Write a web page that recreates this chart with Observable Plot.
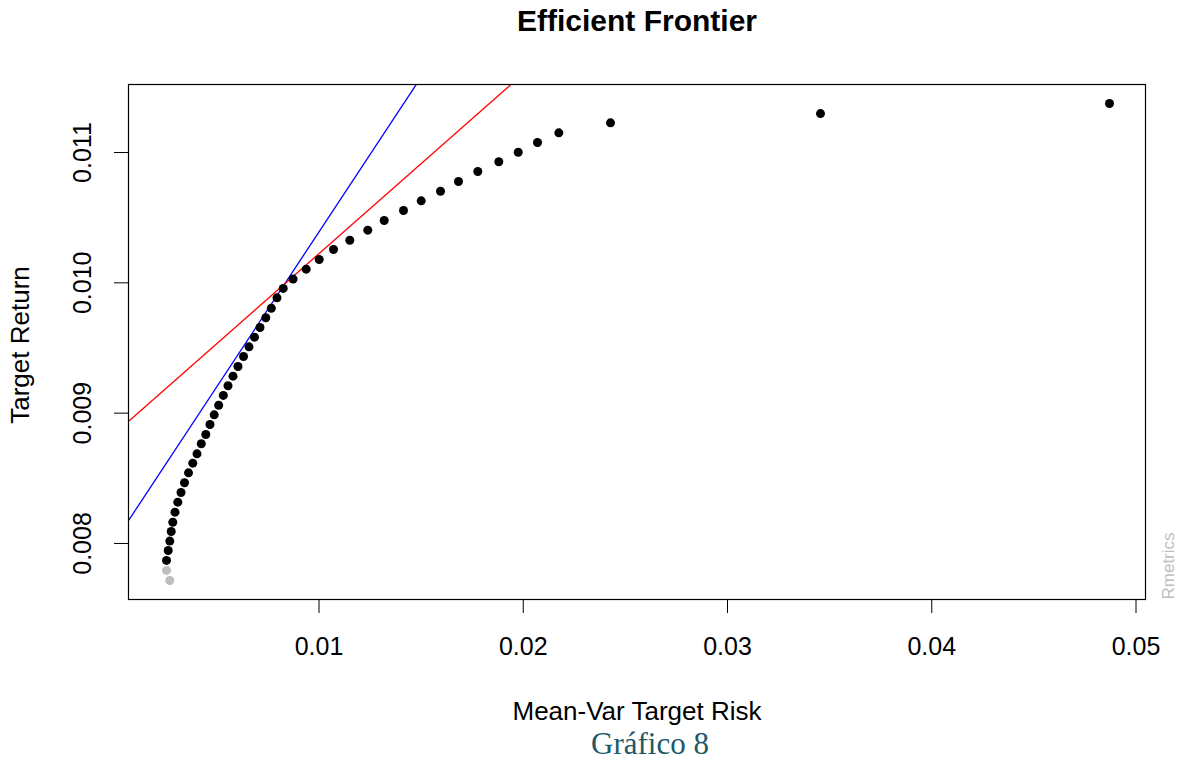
<!DOCTYPE html>
<html>
<head>
<meta charset="utf-8">
<script src="https://cdn.jsdelivr.net/npm/d3@7"></script>
<script src="https://cdn.jsdelivr.net/npm/@observablehq/plot@0.6"></script>
<style>
  body { margin: 0; background: #fff; }
  #wrap { width: 1184px; height: 762px; background: #fff; }
  #title { width: 1184px; height: 44px; line-height: 44px; box-sizing: border-box; padding-left: 90px;
           text-align: center; font: bold 30px "Liberation Sans", Arial, sans-serif; color: #000; }
  #title span { position: relative; top: 4px; }
  #chart svg { display: block; }
  #caption { width: 1184px; height: 36px; line-height: 36px; box-sizing: border-box; padding-left: 116px;
             text-align: center; font: 31px "Liberation Serif", "Times New Roman", serif; color: #215868; }
</style>
</head>
<body>
<div id="wrap">
  <div id="title"><span>Efficient Frontier</span></div>
  <div id="chart"></div>
  <div id="caption">Gráfico 8</div>
</div>
<script>
// Frontier points, from lowest to highest target return
const targetRisk = [0.002695, 0.002534, 0.002534, 0.002617, 0.002695, 0.002764, 0.002842, 0.002950, 0.003087, 0.003244,
                    0.003415, 0.003611, 0.003821, 0.004027, 0.004237, 0.004458, 0.004663, 0.004869, 0.005089, 0.005315,
                    0.005545, 0.005789, 0.006034, 0.006304, 0.006573, 0.006842, 0.007111, 0.007395, 0.007665, 0.007944,
                    0.008247, 0.008732, 0.009373, 0.010010, 0.010710, 0.011508, 0.012389, 0.013192, 0.014137, 0.015004,
                    0.015949, 0.016830, 0.017775, 0.018803, 0.019753, 0.020698, 0.021741, 0.024272, 0.034553, 0.048702];
const targetReturn = [0.007716, 0.007793, 0.007870, 0.007946, 0.008018, 0.008092, 0.008163, 0.008240, 0.008317, 0.008391,
                      0.008466, 0.008542, 0.008616, 0.008688, 0.008765, 0.008836, 0.008913, 0.008987, 0.009061, 0.009136,
                      0.009210, 0.009284, 0.009358, 0.009435, 0.009509, 0.009583, 0.009657, 0.009732, 0.009805, 0.009885,
                      0.009957, 0.010029, 0.010105, 0.010179, 0.010256, 0.010327, 0.010404, 0.010478, 0.010555, 0.010629,
                      0.010703, 0.010778, 0.010854, 0.010929, 0.011002, 0.011077, 0.011151, 0.011228, 0.011299, 0.011376];
const pointStatus = [...Array(2).fill("inefficient"), ...Array(48).fill("efficient")];

// Straight lines (abline style): intercept + slope
const lineNames = ["tangency", "sharpe"];
const lineIntercepts = [0.008016, 0.008844];
const lineSlopes = [0.2375, 0.1380];

// Axis ticks
const xTicks = [0.01, 0.02, 0.03, 0.04, 0.05];
const yTicks = [0.008, 0.009, 0.010, 0.011];

const points = targetRisk.map((r, i) => ({risk: r, ret: targetReturn[i], status: pointStatus[i]}));
const lines = lineNames.map((name, i) => ({
  name,
  x1: 0, y1: lineIntercepts[i],
  x2: 0.06, y2: lineIntercepts[i] + lineSlopes[i] * 0.06
}));

const chart = Plot.plot({
  width: 1184,
  height: 682,
  marginTop: 40,
  marginBottom: 127,
  marginLeft: 128,
  marginRight: 39,
  style: {fontFamily: '"Liberation Sans", Arial, sans-serif', fontSize: "25px", background: "white", color: "black"},
  x: {domain: [0.000673, 0.050465]},
  y: {domain: [0.00757, 0.011522]},
  marks: [
    Plot.link(lines.filter(d => d.name === "tangency"), {x1: "x1", y1: "y1", x2: "x2", y2: "y2", stroke: "#0000ff", strokeWidth: 1.3, clip: true}),
    Plot.link(lines.filter(d => d.name === "sharpe"), {x1: "x1", y1: "y1", x2: "x2", y2: "y2", stroke: "#ff0000", strokeWidth: 1.3, clip: true}),
    Plot.dot(points.filter(d => d.status === "inefficient"), {x: "risk", y: "ret", r: 4.5, fill: "#bebebe"}),
    Plot.dot(points.filter(d => d.status === "efficient"), {x: "risk", y: "ret", r: 4.5, fill: "#000000"}),
    Plot.frame({stroke: "#000", strokeWidth: 1.2}),
    Plot.axisX(xTicks, {tickSize: 14, tickPadding: 24, tickFormat: d3.format(".2f"), label: null, stroke: "#000"}),
    Plot.axisY(yTicks, {tickSize: 14, tickPadding: 24, tickRotate: -90, tickFormat: d3.format(".3f"), label: null, stroke: "#000"}),
    Plot.text(["Mean-Var Target Risk"], {frameAnchor: "bottom", dy: 120, lineAnchor: "bottom", fill: "#000", fontSize: 26}),
    Plot.text(["Target Return"], {frameAnchor: "left", dx: -100, dy: 3, rotate: -90, textAnchor: "middle", lineAnchor: "bottom", fill: "#000", fontSize: 26}),
    Plot.text(["Rmetrics"], {frameAnchor: "bottom-right", dx: 28, rotate: -90, textAnchor: "start", lineAnchor: "bottom", fill: "#bebebe", fontSize: 17})
  ]
});
document.getElementById("chart").appendChild(chart);
</script>
</body>
</html>
